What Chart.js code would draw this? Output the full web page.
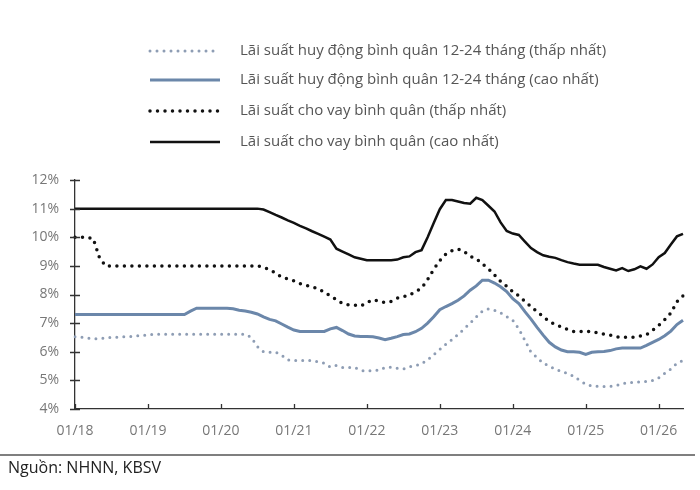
<!DOCTYPE html>
<html>
<head>
<meta charset="utf-8">
<script src="https://cdn.jsdelivr.net/npm/chart.js@4.4.0/dist/chart.umd.min.js"></script>
<style>
  html, body { margin: 0; padding: 0; background: #fff; }
</style>
</head>
<body>
<canvas id="chart" width="700" height="490"></canvas>
<script>
// thang: 01/18 -> 05/26
const months = [];
for (let y = 18; y <= 26; y++) {
  for (let m = 1; m <= 12; m++) {
    if (y === 26 && m > 5) break;
    months.push(String(m).padStart(2, '0') + '/' + y);
  }
}
const tickLabels = ['01/18', '01/19', '01/20', '01/21', '01/22', '01/23', '01/24', '01/25', '01/26'];
const yTicks = [4, 5, 6, 7, 8, 9, 10, 11, 12];

const seriesNames = [
  'Lãi suất huy động bình quân 12-24 tháng (thấp nhất)',
  'Lãi suất huy động bình quân 12-24 tháng (cao nhất)',
  'Lãi suất cho vay bình quân (thấp nhất)',
  'Lãi suất cho vay bình quân (cao nhất)'
];

const depositMin = [
  6.52, 6.51, 6.48, 6.46, 6.45, 6.48, 6.5, 6.51, 6.52, 6.53, 6.55, 6.57, 6.58,
  6.61, 6.61, 6.61, 6.61, 6.61, 6.61, 6.61, 6.61, 6.61, 6.61, 6.61, 6.61, 6.61, 6.61, 6.61, 6.61,
  6.5, 6.18, 6.0, 5.98, 5.99, 5.88, 5.72, 5.69, 5.69, 5.69, 5.69, 5.65, 5.6,
  5.46, 5.52, 5.45, 5.45, 5.45, 5.35, 5.32, 5.35, 5.35, 5.45, 5.46, 5.42, 5.4, 5.48, 5.51, 5.58,
  5.72, 5.9, 6.08, 6.26, 6.42, 6.6, 6.8, 7.0, 7.22, 7.42, 7.5, 7.45, 7.36, 7.23, 7.1,
  6.8, 6.4, 5.98, 5.8, 5.6, 5.5, 5.39, 5.32, 5.24, 5.15, 5.0, 4.87, 4.8, 4.79,
  4.79, 4.79, 4.82, 4.88, 4.93, 4.93, 4.95, 4.96, 5.0, 5.09, 5.25, 5.4, 5.6, 5.7
];

const depositMax = [
  7.3, 7.3, 7.3, 7.3, 7.3, 7.3, 7.3, 7.3, 7.3, 7.3, 7.3, 7.3, 7.3, 7.3, 7.3, 7.3, 7.3, 7.3, 7.3,
  7.42, 7.52,
  7.52, 7.52, 7.52, 7.52, 7.52,
  7.5, 7.45, 7.42, 7.38, 7.32, 7.22, 7.13, 7.08, 6.97, 6.86, 6.76, 6.71,
  6.71, 6.71, 6.71, 6.71,
  6.8, 6.85, 6.74, 6.62, 6.55, 6.53, 6.53, 6.52, 6.48, 6.42, 6.47, 6.53, 6.6, 6.62, 6.7,
  6.82, 7.0, 7.22, 7.47, 7.58, 7.68, 7.8, 7.95, 8.15, 8.3, 8.5, 8.5, 8.4, 8.27, 8.1,
  7.85, 7.68, 7.4, 7.14, 6.85, 6.58, 6.33, 6.17, 6.06, 6.0, 6.0, 5.98, 5.91, 5.98, 6.0,
  6.01, 6.04, 6.1, 6.13, 6.13, 6.13, 6.13, 6.22, 6.33, 6.43, 6.56, 6.72, 6.95, 7.1
];

const lendingMin = [
  10.0, 10.0, 10.0, 9.95, 9.3, 9.0,
  9.0, 9.0, 9.0, 9.0, 9.0, 9.0, 9.0, 9.0, 9.0, 9.0, 9.0, 9.0, 9.0, 9.0, 9.0, 9.0, 9.0, 9.0, 9.0,
  9.0, 9.0, 9.0, 9.0, 9.0, 9.0,
  8.95, 8.87, 8.75, 8.6, 8.55, 8.48, 8.38, 8.32, 8.27, 8.2, 8.08, 7.95, 7.82, 7.69, 7.64, 7.63, 7.6,
  7.72, 7.82, 7.77, 7.72, 7.76, 7.87, 7.92, 7.98, 8.1, 8.22, 8.52, 8.88, 9.18, 9.41, 9.53, 9.59,
  9.5, 9.33, 9.25, 9.07, 8.9, 8.68, 8.46, 8.29, 8.1, 7.95, 7.76, 7.58, 7.4, 7.23, 7.06, 6.95, 6.87, 6.78, 6.71,
  6.71, 6.71, 6.71, 6.66, 6.62, 6.58, 6.52, 6.51, 6.51, 6.51, 6.55, 6.6, 6.75, 6.92, 7.12, 7.35, 7.75, 7.95
];

const lendingMax = [
  11, 11, 11, 11, 11, 11, 11, 11, 11, 11, 11, 11, 11, 11, 11, 11,
  11, 11, 11, 11, 11, 11, 11, 11, 11, 11, 11, 11, 11, 11, 11,
  10.97, 10.88, 10.78, 10.69, 10.59, 10.5, 10.4, 10.31, 10.21, 10.12, 10.02, 9.92,
  9.6, 9.5, 9.4, 9.3, 9.25, 9.2, 9.2, 9.2, 9.2, 9.2, 9.22, 9.3, 9.33, 9.48, 9.55,
  10.0, 10.5, 10.98, 11.3, 11.3, 11.25, 11.2, 11.17, 11.38, 11.3, 11.1, 10.9, 10.52, 10.22, 10.13,
  10.08, 9.85, 9.62, 9.48, 9.37, 9.32, 9.28, 9.2, 9.13, 9.08, 9.04, 9.04, 9.04, 9.04,
  8.96, 8.9, 8.84, 8.92, 8.82, 8.88, 8.98, 8.9, 9.05, 9.3, 9.45, 9.75, 10.03, 10.12
];

Chart.defaults.font.family = "'Open Sans', sans-serif";

// legend, ticks, source line
const extras = {
  id: 'extras',
  afterDraw(chart) {
    const ctx = chart.ctx;
    const a = chart.chartArea;
    const xs = chart.scales.x, ys = chart.scales.y;
    ctx.save();
    ctx.strokeStyle = '#333';
    ctx.lineWidth = 1.3;
    ctx.beginPath();
    months.forEach((m, i) => {
      if (tickLabels.includes(m)) {
        const px = Math.round(xs.getPixelForValue(i)) + 0.5;
        ctx.moveTo(px, a.bottom);
        ctx.lineTo(px, a.bottom - 5);
      }
    });
    yTicks.forEach(v => {
      const py = Math.round(ys.getPixelForValue(v)) + 0.5;
      ctx.moveTo(a.left - 5, py);
      ctx.lineTo(a.left + 5, py);
    });
    ctx.stroke();

    // legend
    const legendY = [51, 80, 111, 142];
    ctx.font = "15px 'Open Sans', sans-serif";
    ctx.textBaseline = 'middle';
    chart.data.datasets.forEach((ds, i) => {
      const ly = legendY[i];
      ctx.strokeStyle = ds.borderColor;
      ctx.lineWidth = ds.borderWidth;
      ctx.setLineDash(ds.borderDash || []);
      ctx.lineCap = ds.borderCapStyle || 'butt';
      ctx.beginPath();
      ctx.moveTo(150, ly);
      ctx.lineTo(220, ly);
      ctx.stroke();
      ctx.fillStyle = '#555';
      ctx.fillText(ds.label, 240, ly);
    });

    // nguon
    ctx.setLineDash([]);
    ctx.lineCap = 'butt';
    ctx.strokeStyle = '#555';
    ctx.lineWidth = 1.5;
    ctx.beginPath();
    ctx.moveTo(0, 455);
    ctx.lineTo(695, 455);
    ctx.stroke();
    ctx.fillStyle = '#222';
    ctx.font = "16px 'Open Sans', sans-serif";
    ctx.fillText('Nguồn: NHNN, KBSV', 8, 468);
    ctx.restore();
  }
};

new Chart(document.getElementById('chart'), {
  type: 'line',
  data: {
    labels: months,
    datasets: [
      { label: seriesNames[0], data: depositMin, borderColor: '#8e9db4', borderWidth: 3, borderDash: [0, 7], borderCapStyle: 'round' },
      { label: seriesNames[1], data: depositMax, borderColor: '#6b87aa', borderWidth: 3 },
      { label: seriesNames[2], data: lendingMin, borderColor: '#111', borderWidth: 3.5, borderDash: [0, 7.5], borderCapStyle: 'round' },
      { label: seriesNames[3], data: lendingMax, borderColor: '#111', borderWidth: 2.5 }
    ]
  },
  options: {
    responsive: false,
    animation: false,
    layout: { padding: { top: 180, right: 17, left: 0, bottom: 0 } },
    plugins: { legend: { display: false }, tooltip: { enabled: false } },
    elements: { point: { radius: 0 }, line: { tension: 0 } },
    scales: {
      x: {
        offset: false,
        grid: { drawOnChartArea: false, drawTicks: false },
        border: { color: '#333', width: 1.3 },
        ticks: {
          autoSkip: false, maxRotation: 0, padding: 14, color: '#777', font: { size: 14 },
          callback: (v, i) => tickLabels.includes(months[i]) ? months[i] : ''
        },
        afterFit: s => { s.height = 81; }
      },
      y: {
        min: 4, max: 12,
        grid: { drawOnChartArea: false, drawTicks: false },
        border: { color: '#333', width: 1.3 },
        ticks: { stepSize: 1, padding: 16, color: '#777', font: { size: 14 }, callback: v => v + '%' },
        afterFit: s => { s.width = 75; }
      }
    }
  },
  plugins: [extras]
});
</script>
</body>
</html>
